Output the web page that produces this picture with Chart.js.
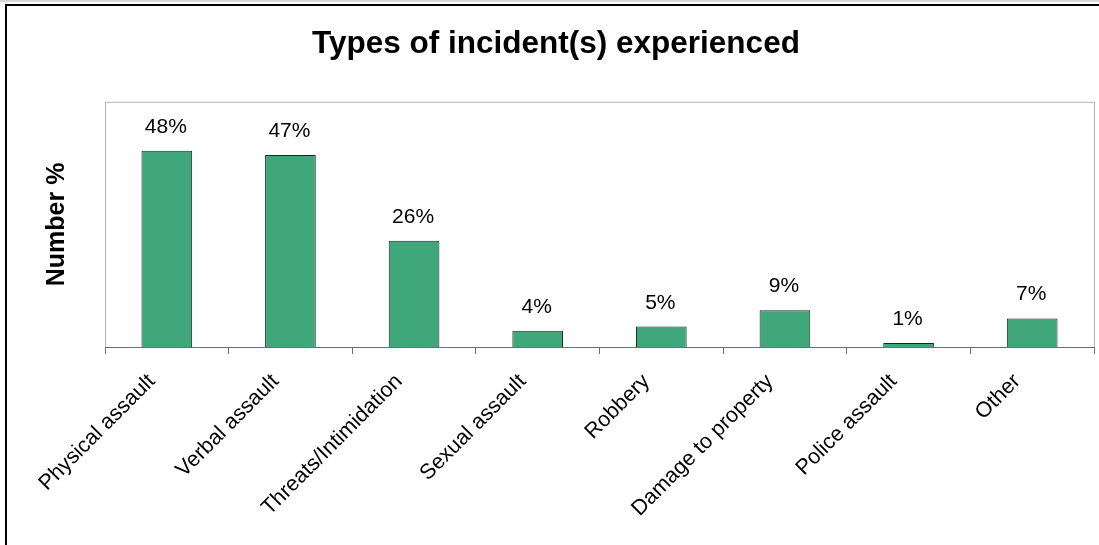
<!DOCTYPE html>
<html>
<head>
<meta charset="utf-8">
<script src="https://cdn.jsdelivr.net/npm/chart.js@4"></script>
<style>
    body { margin: 0; background: #fff; }
    canvas { display: block; }
</style>
</head>
<body>
<canvas id="incidentChart" width="1099" height="545"></canvas>
<script>
const categories = [
    'Physical assault',
    'Verbal assault',
    'Threats/Intimidation',
    'Sexual assault',
    'Robbery',
    'Damage to property',
    'Police assault',
    'Other'
];
const percentages = [48, 47, 26, 4, 5, 9, 1, 7];
const valueLabels = ['48%', '47%', '26%', '4%', '5%', '9%', '1%', '7%'];

const fontFamily = "'Liberation Sans', Arial, sans-serif";

// outer frame + grey plot box
const framePlugin = {
    id: 'frame',
    beforeDraw(chart) {
        const ctx = chart.ctx;
        const a = chart.chartArea;
        ctx.save();
        ctx.fillStyle = '#fff';
        ctx.fillRect(0, 0, chart.width, chart.height);
        ctx.fillStyle = '#d8d8d8';
        ctx.fillRect(0, 0, chart.width, 2);
        ctx.strokeStyle = '#000';
        ctx.lineWidth = 2;
        ctx.strokeRect(6, 5, chart.width + 20, chart.height + 20);
        ctx.strokeStyle = '#b4b4b4';
        ctx.lineWidth = 1;
        ctx.strokeRect(a.left + 0.5, a.top + 0.5, a.right - a.left, a.bottom - a.top);
        ctx.restore();
    }
};

// percent labels above each bar
const valueLabelPlugin = {
    id: 'valueLabels',
    afterDatasetsDraw(chart) {
        const ctx = chart.ctx;
        const meta = chart.getDatasetMeta(0);
        ctx.save();
        ctx.font = '21px ' + fontFamily;
        ctx.fillStyle = '#000';
        ctx.textAlign = 'center';
        ctx.textBaseline = 'alphabetic';
        meta.data.forEach((bar, i) => {
            ctx.fillText(valueLabels[i], bar.x - 1, bar.y - 18);
        });
        ctx.restore();
    }
};

const config = {
    type: 'bar',
    data: {
        labels: categories,
        datasets: [{
            label: 'Number %',
            data: percentages,
            backgroundColor: '#3fa77a',
            borderColor: '#1a2a20',
            borderWidth: 1,
            barPercentage: 0.41,
            categoryPercentage: 1
        }]
    },
    options: {
        responsive: false,
        animation: false,
        layout: {
            padding: { left: 18, right: 5, top: 0, bottom: 0 }
        },
        plugins: {
            legend: { display: false },
            tooltip: { enabled: false },
            title: {
                display: true,
                text: 'Types of incident(s) experienced',
                color: '#000',
                font: { family: fontFamily, size: 31.5, weight: 'bold' },
                padding: { top: 25, bottom: 39 }
            }
        },
        scales: {
            x: {
                grid: {
                    display: true,
                    drawOnChartArea: false,
                    drawTicks: true,
                    tickLength: 7,
                    color: '#6e6e6e'
                },
                border: { display: true, color: '#6e6e6e', width: 1 },
                ticks: {
                    color: '#000',
                    minRotation: 45,
                    maxRotation: 45,
                    padding: 15,
                    labelOffset: -15,
                    font: { family: fontFamily, size: 21.5 }
                },
                afterFit(scale) {
                    scale.height = 198;
                }
            },
            y: {
                min: 0,
                max: 60,
                grid: { display: false },
                border: { display: false },
                ticks: { display: false },
                title: {
                    display: true,
                    text: 'Number %',
                    color: '#000',
                    font: { family: fontFamily, size: 25, weight: 'bold' },
                    padding: { top: 24, bottom: 0 }
                },
                afterFit(scale) {
                    scale.width = 87;
                }
            }
        }
    },
    plugins: [framePlugin, valueLabelPlugin]
};

const incidentChart = new Chart(
    document.getElementById('incidentChart'),
    config
);
</script>
</body>
</html>
